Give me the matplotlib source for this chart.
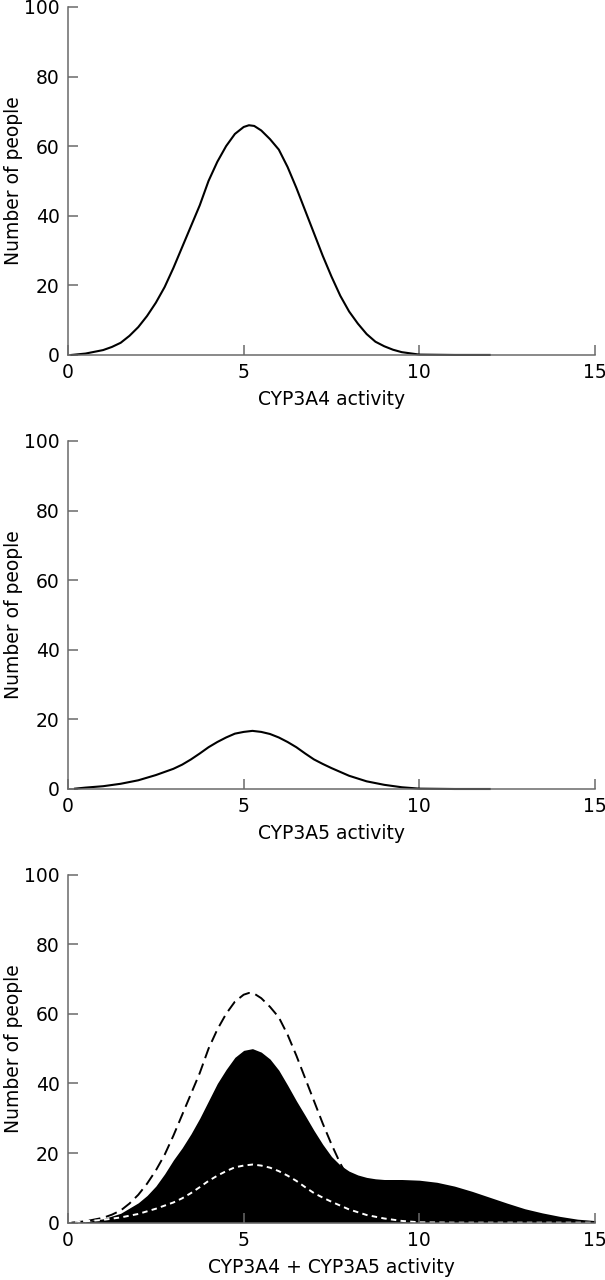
import matplotlib
matplotlib.use("Agg")
import matplotlib.pyplot as plt

plt.rcParams['font.family'] = ['DejaVu Sans']

# values
x_a4 = [0.1, 0.5, 1.0, 1.25, 1.5, 1.75, 2.0, 2.25, 2.5, 2.75, 3.0, 3.25, 3.5, 3.75, 4.0, 4.25,
        4.5, 4.75, 5.0, 5.15, 5.3, 5.5, 5.75, 6.0, 6.25, 6.5, 6.75, 7.0, 7.25, 7.5, 7.75,
        8.0, 8.25, 8.5, 8.75, 9.0, 9.25, 9.5, 10.0, 11.0, 12.0]
y_a4 = [0.0, 0.4, 1.4, 2.3, 3.5, 5.5, 8.0, 11.2, 15.0, 19.5, 25.0, 31.0, 37.0, 43.0, 50.0, 55.5,
        60.0, 63.5, 65.5, 66.0, 65.8, 64.5, 62.0, 59.0, 54.0, 48.0, 41.5, 35.0, 28.5, 22.5, 17.0,
        12.5, 9.0, 6.0, 3.8, 2.5, 1.5, 0.8, 0.1, 0.0, 0.0]

x_a5 = [0.2, 0.5, 1.0, 1.5, 2.0, 2.5, 3.0, 3.25, 3.5, 3.75, 4.0, 4.25, 4.5, 4.75, 5.0, 5.25,
        5.5, 5.75, 6.0, 6.25, 6.5, 6.75, 7.0, 7.25, 7.5, 8.0, 8.5, 9.0, 9.5, 10.0, 11.0, 12.0]
y_a5 = [0.1, 0.4, 0.8, 1.5, 2.5, 4.0, 5.8, 7.0, 8.5, 10.2, 12.0, 13.5, 14.8, 15.9, 16.4, 16.7,
        16.4, 15.8, 14.8, 13.5, 12.0, 10.2, 8.5, 7.2, 6.0, 3.8, 2.2, 1.2, 0.5, 0.1, 0.0, 0.0]

# white dashed CYP3A5 in the combined panel runs on to 15
x_a5_long = x_a5 + [13.0, 14.0, 15.0]
y_a5_long = y_a5 + [0.0, 0.0, 0.0]

x_sum = [0.0, 0.5, 1.0, 1.5, 2.0, 2.25, 2.5, 2.75, 3.0, 3.25, 3.5, 3.75, 4.0, 4.25, 4.5, 4.75,
         5.0, 5.25, 5.5, 5.75, 6.0, 6.25, 6.5, 6.75, 7.0, 7.25, 7.5, 7.75, 8.0, 8.25, 8.5,
         8.75, 9.0, 9.5, 10.0, 10.5, 11.0, 11.5, 12.0, 12.5, 13.0, 13.5, 14.0, 14.5, 15.0]
y_sum = [0.0, 0.3, 1.1, 2.7, 5.7, 7.8, 10.5, 14.0, 18.0, 21.5, 25.5, 30.0, 35.0, 40.0, 44.0, 47.5,
         49.5, 50.0, 49.0, 47.0, 43.8, 39.5, 35.0, 30.8, 26.5, 22.5, 19.0, 16.5, 14.8, 13.7, 13.0,
         12.6, 12.4, 12.4, 12.2, 11.6, 10.5, 9.0, 7.3, 5.6, 4.0, 2.8, 1.8, 1.0, 0.6]

x_ticks = [0, 5, 10, 15]
y_ticks = [0, 20, 40, 60, 80, 100]
x_labels = ["CYP3A4 activity", "CYP3A5 activity", "CYP3A4 + CYP3A5 activity"]

fig = plt.figure(figsize=(6.05, 12.8), dpi=100)
bottoms = [0.7227, 0.3836, 0.0448]
axes = []
for b, lab in zip(bottoms, x_labels):
    ax = fig.add_axes([0.1124, b, 0.8711, 0.2719])
    ax.set_xlim(0, 15)
    ax.set_ylim(0, 100)
    ax.set_xticks(x_ticks)
    ax.set_yticks(y_ticks)
    for s in ['top', 'right']:
        ax.spines[s].set_visible(False)
    for s in ['left', 'bottom']:
        ax.spines[s].set_color('#6a6a6a')
        ax.spines[s].set_linewidth(1.1)
    ax.tick_params(direction='in', length=7, width=1.1, color='#6a6a6a',
                   labelsize=13.5, pad=6)
    ax.set_xlabel(lab, fontsize=13.5, va='center')
    ax.xaxis.set_label_coords(0.5, -0.129)
    ax.set_ylabel("Number of people", fontsize=13.5, va='center')
    ax.yaxis.set_label_coords(-0.104, 0.5)
    ax.patch.set_visible(False)
    axes.append(ax)

axes[0].plot(x_a4, y_a4, color='black', lw=1.5, clip_on=False)
axes[1].plot(x_a5, y_a5, color='black', lw=1.5, clip_on=False)

ax = axes[2]
ax.fill_between(x_sum, y_sum, 0, color='black', lw=0)
ax.plot(x_a4, y_a4, color='black', lw=1.4, dashes=(6, 3))
ax.plot(x_a5_long, y_a5_long, color='white', lw=1.4, dashes=(2.8, 2.2))

fig.savefig("out.png", dpi=100)
